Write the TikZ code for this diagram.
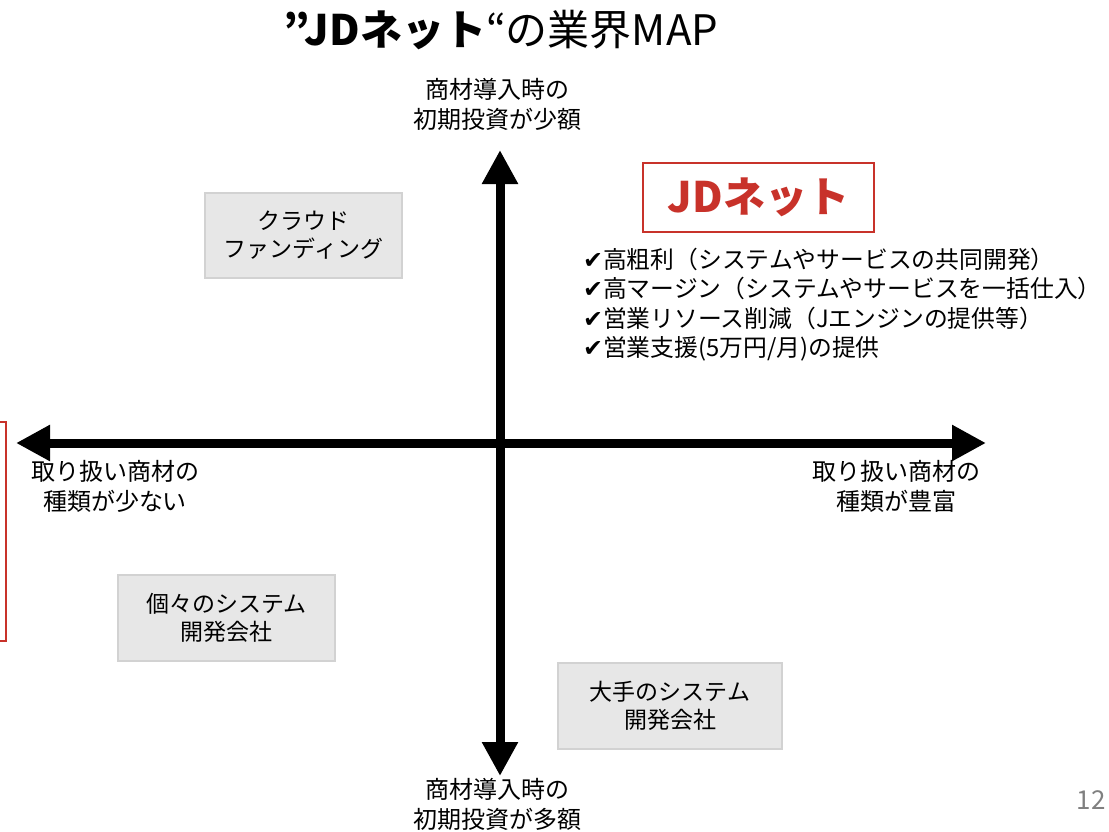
\documentclass[tikz,border=0pt]{standalone}
\usepackage{fontspec}
\setmainfont{Noto Sans CJK JP}
\newfontfamily\symfont{DejaVu Sans}
\usetikzlibrary{arrows.meta}
\definecolor{boxfill}{HTML}{E7E7E7}
\definecolor{boxline}{HTML}{D2D2D2}
\definecolor{jdred}{HTML}{C8322A}
\begin{document}
\begin{tikzpicture}[x=1pt,y=-1pt,
  graybox/.style={draw=boxline,line width=2pt,fill=boxfill,align=center,font=\fontsize{23}{28}\selectfont,inner sep=0pt},
  axislabel/.style={align=center,font=\fontsize{24}{30}\selectfont,inner sep=0pt},
  axisarrow/.style={line width=9pt,-{Triangle[length=34pt,width=34pt]}}]
\useasboundingbox (0,0) rectangle (1109,831);
% title
\node[font=\fontsize{42}{44}\selectfont] (title) at (501,30) {\textbf{”JDネット}“の業界MAP};
% axes
\coordinate (c) at (500,443);
\coordinate (top) at (500,150);
\coordinate (bot) at (500,776);
\coordinate (lft) at (16,443);
\coordinate (rgt) at (986,443);
\draw[axisarrow] (c) -- (top);
\draw[axisarrow] (c) -- (bot);
\draw[axisarrow] (c) -- (lft);
\draw[axisarrow] (c) -- (rgt);
% axis labels
\node[axislabel] (tl) at (497,104) {商材導入時の\\初期投資が少額};
\node[axislabel] (bl) at (497,804) {商材導入時の\\初期投資が多額};
\node[axislabel] (ll) at (115,486) {取り扱い商材の\\種類が少ない};
\node[axislabel] (rl) at (896,486) {取り扱い商材の\\種類が豊富};
% boxes
\node[graybox,minimum width=197pt,minimum height=85pt] (cf) at (303.5,235.5) {クラウド\\ファンディング};
\node[graybox,minimum width=217pt,minimum height=86pt] (kk) at (226.5,618) {個々のシステム\\開発会社};
\node[graybox,minimum width=224pt,minimum height=86pt] (oo) at (670,706) {大手のシステム\\開発会社};
\node[draw=jdred,line width=1.5pt,text=jdred,minimum width=231pt,minimum height=69pt,inner sep=0pt,font=\fontsize{42}{44}\selectfont\bfseries] (jd) at (758.5,197.5) {JDネット};
% checklist
\node[anchor=north west,align=left,inner sep=0pt,font=\fontsize{23.8}{29.3}\selectfont] (list) at (583,248) {{\symfont ✔}高粗利（システムやサービスの共同開発）\\{\symfont ✔}高マージン（システムやサービスを一括仕入）\\{\symfont ✔}営業リソース削減（Jエンジンの提供等）\\{\symfont ✔}営業支援(5万円/月)の提供};
% left red frame (cut off)
\draw[jdred,line width=1.5pt] (-10,422) -- (6,422) -- (6,641) -- (-10,641);
% page number
\node[anchor=east,text=gray,inner sep=0pt,font=\fontsize{26}{28}\selectfont] (pg) at (1106,800) {12};
\end{tikzpicture}
\end{document}
